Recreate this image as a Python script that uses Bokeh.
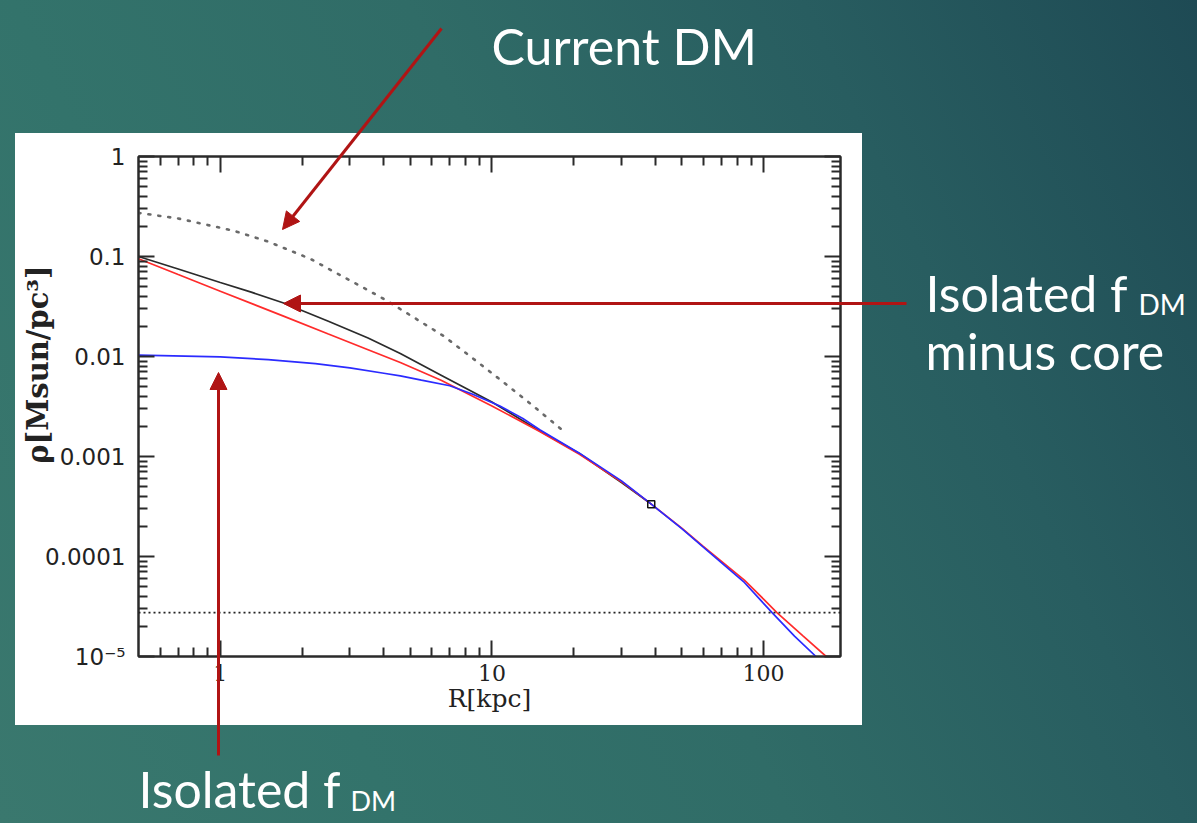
import numpy as np
from bokeh.plotting import figure
from bokeh.models import (LogAxis, FixedTicker, Span, Arrow, NormalHead, Label,
                          Range1d)
from bokeh.embed import file_html
from bokeh.resources import INLINE

# ---------------- data ----------------
r_black = [0.5, 0.7, 1.0, 1.3, 1.7, 2.5, 3.5, 4.6, 6.5, 10, 15, 21, 30, 38.6]
rho_black = [0.100, 0.075, 0.055, 0.044, 0.0345, 0.0225, 0.0153, 0.0107,
             0.0065, 0.0035, 0.0018, 0.00107, 0.00055, 0.000334]

r_red = [0.5, 0.7, 1.0, 1.7, 2.5, 3.5, 4.6, 6.5, 10, 15, 21, 30, 38.6, 50,
         60, 85, 100, 112, 140, 170]
rho_red = [0.095, 0.066, 0.045, 0.0255, 0.0168, 0.0117, 0.0087, 0.0058,
           0.0032, 0.00178, 0.00105, 0.00056, 0.000334, 0.000192, 0.000126,
           5.8e-5, 3.75e-5, 2.75e-5, 1.6e-5, 1.0e-5]

r_blue = [0.5, 1.0, 1.5, 2.24, 3.0, 4.0, 4.6, 5.5, 7.0, 8.5, 10.7, 13, 15,
          21, 30, 38.6, 50, 60, 85, 100, 107.5, 130, 156]
rho_blue = [0.0103, 0.0099, 0.0093, 0.0085, 0.0077, 0.0068, 0.0064, 0.0058,
            0.0051, 0.0042, 0.0032, 0.0024, 0.00185, 0.00108, 0.00057,
            0.000334, 0.00019, 0.000124, 5.5e-5, 3.4e-5, 2.75e-5, 1.6e-5,
            1.0e-5]

r_current = [0.5, 0.7, 1.12, 1.5, 2.145, 3.0, 3.99, 5.0, 6.63, 8.5, 10.7,
             14, 18.8]
rho_current = [0.273, 0.24, 0.181, 0.141, 0.0948, 0.0577, 0.0378, 0.0259,
               0.0161, 0.0096, 0.0059, 0.0033, 0.0017]

r_marker = [38.6]
rho_marker = [3.34e-4]

rho_floor = 2.75e-5

x_major = [1, 10, 100]
x_minor = [0.6, 0.7, 0.8, 0.9, 2, 3, 4, 5, 6, 7, 8, 9,
           20, 30, 40, 50, 60, 70, 80, 90]
y_major = [1e-5, 1e-4, 1e-3, 1e-2, 1e-1, 1.0]
y_minor = [k * 10.0 ** e for e in range(-5, 0) for k in range(2, 10)]
y_labels = {1.0: "1", 0.1: "0.1", 0.01: "0.01", 0.001: "0.001",
            0.0001: "0.0001", 1e-5: "10\u207b\u2075"}
x_labels = {1: "1", 10: "10", 100: "100"}

# ---------------- geometry ----------------
W, H = 1197, 823
FL, FR, FT, FB = 138, 840, 156, 656
x0, x1 = 0.5, 192.0
y0, y1 = 1e-5, 1.0

RED = "#b01414"
AX = "#2a2a2a"

# ================= chart =================
p = figure(width=W, height=H, x_axis_type="log", y_axis_type="log",
           x_range=Range1d(x0, x1), y_range=Range1d(y0, y1),
           output_backend="svg", toolbar_location=None,
           min_border_left=FL, min_border_right=W - FR,
           min_border_top=FT, min_border_bottom=H - FB)
p.border_fill_color = None
p.background_fill_color = "white"
p.outline_line_color = AX
p.outline_line_width = 2
p.grid.visible = False
p.styles = {
    "position": "absolute", "top": "0px", "left": "0px", "z-index": "0",
    "background": "linear-gradient(#ffffff, #ffffff) 15px 133px / 847px 592px no-repeat, "
                  "linear-gradient(65deg, #3a786e 0%, #33736b 25%, #306c67 50%, #285d60 75%, #1e4a54 100%)"
}


def style_axis(ax, ticks, minor, show_labels):
    ax.ticker = FixedTicker(ticks=ticks, minor_ticks=minor)
    ax.axis_line_color = AX
    ax.axis_line_width = 2
    ax.major_tick_line_color = AX
    ax.major_tick_line_width = 2
    ax.minor_tick_line_color = AX
    ax.minor_tick_line_width = 2
    ax.major_tick_in = 16
    ax.major_tick_out = 0
    ax.minor_tick_in = 9
    ax.minor_tick_out = 0
    if not show_labels:
        ax.major_label_text_alpha = 0
        ax.major_label_text_font_size = "10px"
        ax.major_label_standoff = 0


xa = p.xaxis[0]
style_axis(xa, x_major, x_minor, True)
xa.major_label_overrides = x_labels
xa.major_label_text_font = "DejaVu Serif"
xa.major_label_text_font_size = "22px"
xa.major_label_text_color = "#222222"
xa.major_label_standoff = 8
xa.axis_label = "R[kpc]"
xa.axis_label_text_font = "DejaVu Serif"
xa.axis_label_text_font_size = "25px"
xa.axis_label_text_font_style = "normal"
xa.axis_label_text_color = "#222222"
xa.axis_label_standoff = 0

ya = p.yaxis[0]
style_axis(ya, y_major, y_minor, True)
ya.major_label_overrides = y_labels
ya.major_label_text_font = "DejaVu Sans"
ya.major_label_text_font_size = "23px"
ya.major_label_text_color = "#222222"
ya.major_label_standoff = 13

top = LogAxis()
style_axis(top, x_major, x_minor, False)
p.add_layout(top, "above")
right = LogAxis()
style_axis(right, y_major, y_minor, False)
p.add_layout(right, "right")

p.line(r_current, rho_current, line_color="#6a6a6a", line_width=2.6,
       line_dash="2 8", line_cap="round")
p.line(r_black, rho_black, line_color="#2b2b2b", line_width=1.7)
p.line(r_red, rho_red, line_color="#ff2b2b", line_width=1.7)
p.line(r_blue, rho_blue, line_color="#2b2bff", line_width=1.7)
p.scatter(r_marker, rho_marker, marker="square", size=7, fill_color=None,
          line_color="#111111", line_width=1.5)
p.add_layout(Span(location=rho_floor, dimension="width", line_color="#222222",
                  line_width=1.8, line_dash="2 3"))

# ================= overlay with the slide annotations (pixel space) =================
q = figure(width=W, height=H, x_range=Range1d(0, W), y_range=Range1d(H, 0),
           output_backend="svg", toolbar_location=None,
           x_axis_location=None, y_axis_location=None, min_border=0)
q.border_fill_color = None
q.background_fill_color = None
q.outline_line_color = None
q.grid.visible = False
q.styles = {"position": "absolute", "top": "0px", "left": "0px", "z-index": "1"}

q.add_layout(Label(x=37, y=364, text="\u03c1[Msun/pc\u00b3]",
                   angle=np.pi / 2, text_align="center", text_baseline="middle",
                   text_font="DejaVu Serif", text_font_style="bold",
                   text_font_size="29px", text_color="#222222"))


def arrow(sx, sy, ex, ey):
    q.add_layout(Arrow(end=NormalHead(size=17, fill_color=RED, line_color=RED,
                                      line_width=1),
                       x_start=sx, y_start=sy, x_end=ex, y_end=ey,
                       line_color=RED, line_width=3))


arrow(441, 28, 282, 229)
arrow(906, 303, 283, 303)
arrow(218, 755, 218, 372)

FONT = "Lato"


def text(px, py, s, size):
    q.add_layout(Label(x=px, y=py, text=s, text_font=FONT,
                       text_font_size=size, text_color="white",
                       text_align="left", text_baseline="alphabetic"))


text(491, 45, "Current DM", "50px")
text(925, 292, "Isolated f", "50px")
text(1138, 303, "DM", "28px")
text(925, 350, "minus core", "50px")
text(138, 788, "Isolated f", "50px")
text(350, 800, "DM", "27px")

open("out.html", "w").write(file_html([p, q], INLINE))
